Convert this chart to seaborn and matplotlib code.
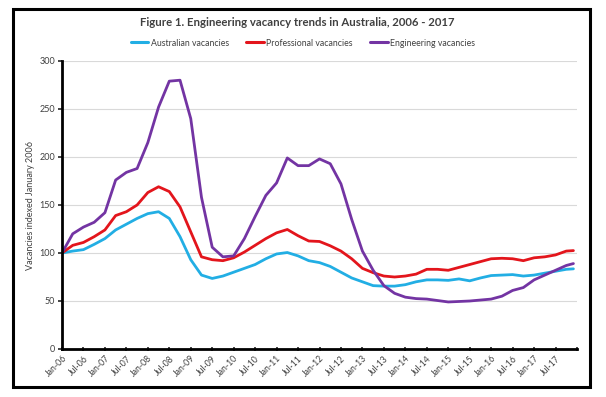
import numpy as np
import pandas as pd
import matplotlib
matplotlib.use("Agg")
import matplotlib.pyplot as plt
from matplotlib.patches import Rectangle
from matplotlib.lines import Line2D
import seaborn as sns

# ---- data (months since Jan 2006, index values) ----
months = [0, 3, 6, 9, 12, 15, 18, 21, 24, 27, 30, 33, 36, 39, 42, 45, 48, 51, 54, 57,
          60, 63, 66, 69, 72, 75, 78, 81, 84, 87, 90, 93, 96, 99, 102, 105, 108, 111,
          114, 117, 120, 123, 126, 129, 132, 135, 138, 141, 143]

australian = [100, 102, 103.5, 109, 115, 124, 130, 136, 141, 143, 136, 117, 93, 77, 73.5, 76,
              80, 84, 88, 94, 99, 100.5, 97, 92, 90, 86, 80, 74, 70, 66, 65.5, 65.5, 67, 70, 72,
              72, 71.5, 73, 71, 74, 76.5, 77, 77.5, 76, 77, 79, 81, 83, 83.5]

professional = [100, 108, 111, 117, 124, 139, 143, 150, 163, 169, 164, 148, 122, 96, 93, 92,
                95, 101, 108, 115, 121, 124.5, 118, 112.5, 112, 107.5, 102, 94, 84, 79.5, 76,
                75, 76, 78, 83, 83, 82, 85, 88, 91, 94, 94.5, 94, 92, 95, 96, 98, 102, 102.5]

engineering = [100, 120, 127, 132, 142, 176, 184, 188, 215, 252, 279, 280, 240, 158, 106, 96,
               97, 115, 138, 160, 173, 199, 191, 191, 198, 193, 172, 135, 102, 82, 66, 58, 54,
               52.5, 52, 50.5, 49, 49.5, 50, 51, 52, 55, 61, 64, 72, 77, 82, 87, 89]

series_names = ["Australian vacancies", "Professional vacancies", "Engineering vacancies"]
series_colors = ["#22AEE4", "#E3151C", "#7334A3"]

tick_months = list(range(0, 145, 6))
tick_labels = [f"{m}-{y:02d}" for y in range(6, 18) for m in ("Jan", "Jul")] + [""]

title = "Figure 1. Engineering vacancy trends in Australia, 2006 - 2017"
ylabel = "Vacancies indexed January 2006"

# ---- build frame ----
df = pd.DataFrame({
    "month": months * 3,
    "value": australian + professional + engineering,
    "series": [series_names[0]] * len(months) + [series_names[1]] * len(months)
              + [series_names[2]] * len(months),
})

sns.set_style("white")
plt.rcParams["font.family"] = ["Lato", "DejaVu Sans"]

fig = plt.figure(figsize=(6.06, 3.97), dpi=100)
ax = fig.add_axes([62 / 606, 1 - 349 / 397, (577 - 62) / 606, (349 - 61) / 397])

sns.lineplot(data=df, x="month", y="value", hue="series", hue_order=series_names,
             palette=series_colors, linewidth=2.0, ax=ax, legend=False,
             solid_joinstyle="round", solid_capstyle="round")

ax.set_xlim(0, 144)
ax.set_ylim(0, 300)
ax.set_yticks(range(0, 301, 50))
ax.set_xticks(tick_months)
ax.set_xticklabels(tick_labels, rotation=45, ha="right", rotation_mode="anchor",
                   fontsize=6.2, color="#404040")
ax.tick_params(axis="y", labelsize=6.5, labelcolor="#404040", length=3, width=1.2,
               direction="out", left=True, pad=2)
ax.tick_params(axis="x", length=3, width=1.2, direction="inout", bottom=True, pad=2)
ax.grid(axis="y", color="#D9D9D9", linewidth=0.8)
ax.set_axisbelow(True)
for s in ("top", "right"):
    ax.spines[s].set_visible(False)
for s in ("left", "bottom"):
    ax.spines[s].set_color("black")
    ax.spines[s].set_linewidth(2.0)
ax.set_xlabel("")
ax.set_ylabel(ylabel, fontsize=6.5, color="#404040", labelpad=3)

# legend
handles = [Line2D([0], [0], color=c, linewidth=2.2) for c in series_colors]
fig.legend(handles, series_names, loc="center", bbox_to_anchor=(0.5, 1 - 43 / 397),
           ncol=3, frameon=False, fontsize=6.3, handlelength=2.0, handletextpad=0.3,
           columnspacing=2.0, labelcolor="#404040")

fig.text(0.49, 1 - 22 / 397, title, ha="center", va="center", fontsize=8.2,
         fontweight="bold", color="#404040")

# outer frame
fig.patches.append(Rectangle((13 / 606, 1 - 387 / 397), (590 - 13) / 606, (387 - 9) / 397,
                             transform=fig.transFigure, fill=False, edgecolor="black",
                             linewidth=2.2))

fig.savefig("out.png", dpi=100)
